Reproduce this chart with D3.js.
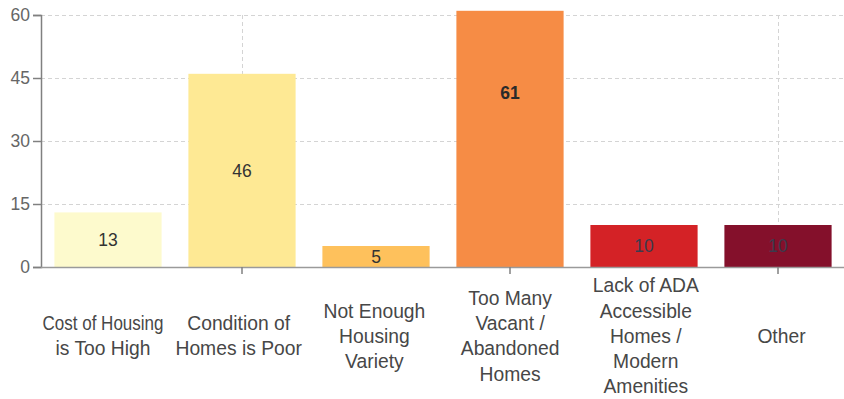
<!DOCTYPE html>
<html>
<head>
<meta charset="utf-8">
<script src="https://cdn.jsdelivr.net/npm/d3@7"></script>
<style>
  html, body { margin: 0; padding: 0; background: #fff; }
  svg { display: block; font-family: "Liberation Sans", Arial, sans-serif; }
</style>
</head>
<body>
<svg id="chart" width="844" height="399"></svg>
<script>
// Survey responses: main housing concerns
const categories = [
  "Cost of Housing is Too High",
  "Condition of Homes is Poor",
  "Not Enough Housing Variety",
  "Too Many Vacant / Abandoned Homes",
  "Lack of ADA Accessible Homes / Modern Amenities",
  "Other"
];
const categoryLines = [
  ["Cost of Housing", "is Too High"],
  ["Condition of", "Homes is Poor"],
  ["Not Enough", "Housing", "Variety"],
  ["Too Many", "Vacant /", "Abandoned", "Homes"],
  ["Lack of ADA", "Accessible", "Homes /", "Modern", "Amenities"],
  ["Other"]
];
const counts = [13, 46, 5, 61, 10, 10];
const barColors = ["#fdfacd", "#fee994", "#fec15c", "#f68c45", "#d42226", "#84102b"];
const yTicks = [0, 15, 30, 45, 60];
const highlighted = "Too Many Vacant / Abandoned Homes";

const svg = d3.select("#chart");
const plotLeft = 41, plotRight = 845, plotTop = 15, plotBottom = 267;

const x = d3.scaleBand()
  .domain(categories)
  .range([plotLeft, plotRight])
  .paddingInner(0.2)
  .paddingOuter(0.1);

// category captions sit on their own, slightly wider spacing
const xLabel = d3.scalePoint()
  .domain(categories)
  .range([103, 781.5]);

const y = d3.scaleLinear()
  .domain([0, 60])
  .range([plotBottom, plotTop]);

// horizontal grid
svg.append("g")
  .selectAll("line")
  .data(yTicks.filter(d => d > 0))
  .join("line")
  .attr("x1", plotLeft).attr("x2", 844)
  .attr("y1", d => y(d) + 0.5).attr("y2", d => y(d) + 0.5)
  .attr("stroke", "#d4d4d4")
  .attr("stroke-width", 1)
  .attr("stroke-dasharray", "4,3");

// vertical grid at every other category
const tickCats = categories.filter((d, i) => i % 2 === 1);
svg.append("g")
  .selectAll("line")
  .data(tickCats)
  .join("line")
  .attr("x1", d => Math.round(x(d) + x.bandwidth() / 2) + 0.5)
  .attr("x2", d => Math.round(x(d) + x.bandwidth() / 2) + 0.5)
  .attr("y1", plotTop).attr("y2", plotBottom)
  .attr("stroke", "#d4d4d4")
  .attr("stroke-width", 1)
  .attr("stroke-dasharray", "4,3");

// bars
svg.append("g")
  .selectAll("rect")
  .data(categories)
  .join("rect")
  .attr("x", d => x(d))
  .attr("width", x.bandwidth())
  .attr("y", (d, i) => y(counts[i]))
  .attr("height", (d, i) => y(0) - y(counts[i]))
  .attr("fill", (d, i) => barColors[i]);

// value labels
svg.append("g")
  .selectAll("text")
  .data(categories)
  .join("text")
  .attr("x", d => x(d) + x.bandwidth() / 2)
  .attr("y", (d, i) => d === highlighted ? y(counts[i] * 0.68) : (y(counts[i]) + y(0)) / 2)
  .attr("dy", "0.35em")
  .attr("text-anchor", "middle")
  .attr("font-size", 17.5)
  .attr("font-weight", d => d === highlighted ? "bold" : "normal")
  .attr("fill", (d, i) => d === highlighted ? "#2a2a2a" : (i >= 4 ? "#3b3b4d" : "#333"))
  .text((d, i) => counts[i]);

// y axis
const yAxis = svg.append("g")
  .attr("transform", `translate(${plotLeft},0)`)
  .call(d3.axisLeft(y).tickValues(yTicks).tickSize(8).tickPadding(3));
yAxis.select(".domain").attr("stroke", "#808080").attr("stroke-width", 1.5);
yAxis.selectAll(".tick line").attr("stroke", "#808080").attr("stroke-width", 1.5);
yAxis.selectAll(".tick text")
  .attr("font-size", 17.5)
  .attr("font-family", "Liberation Sans, Arial, sans-serif")
  .attr("fill", "#666");

// x axis
const xAxis = svg.append("g")
  .attr("transform", `translate(0,${plotBottom})`)
  .call(d3.axisBottom(x).tickValues(tickCats).tickSize(7).tickFormat(""));
xAxis.select(".domain").attr("d", `M${plotLeft},0.5H844`).attr("stroke", "#9a9a9a").attr("stroke-width", 1.5);
xAxis.selectAll(".tick line").attr("stroke", "#808080").attr("stroke-width", 1.5);

// multi-line category captions; over-long lines are squeezed to fit
const lineH = 25.2;
const labelMid = 336;
const maxLine = 121;
const labels = svg.append("g")
  .selectAll("text")
  .data(categories)
  .join("text")
  .attr("text-anchor", "middle")
  .attr("font-size", 19.3)
  .attr("fill", "#474747");
labels.each(function(d, i) {
  const lines = categoryLines[i];
  const cx = xLabel(d);
  const startY = labelMid - (lines.length - 1) * lineH / 2;
  d3.select(this).selectAll("tspan")
    .data(lines)
    .join("tspan")
    .attr("x", cx)
    .attr("y", (l, j) => startY + j * lineH)
    .attr("dy", "0.35em")
    .text(l => l)
    .each(function() {
      const w = this.getComputedTextLength();
      if (w > 130) {
        d3.select(this)
          .attr("textLength", maxLine)
          .attr("lengthAdjust", "spacingAndGlyphs");
      }
    });
});
</script>
</body>
</html>
